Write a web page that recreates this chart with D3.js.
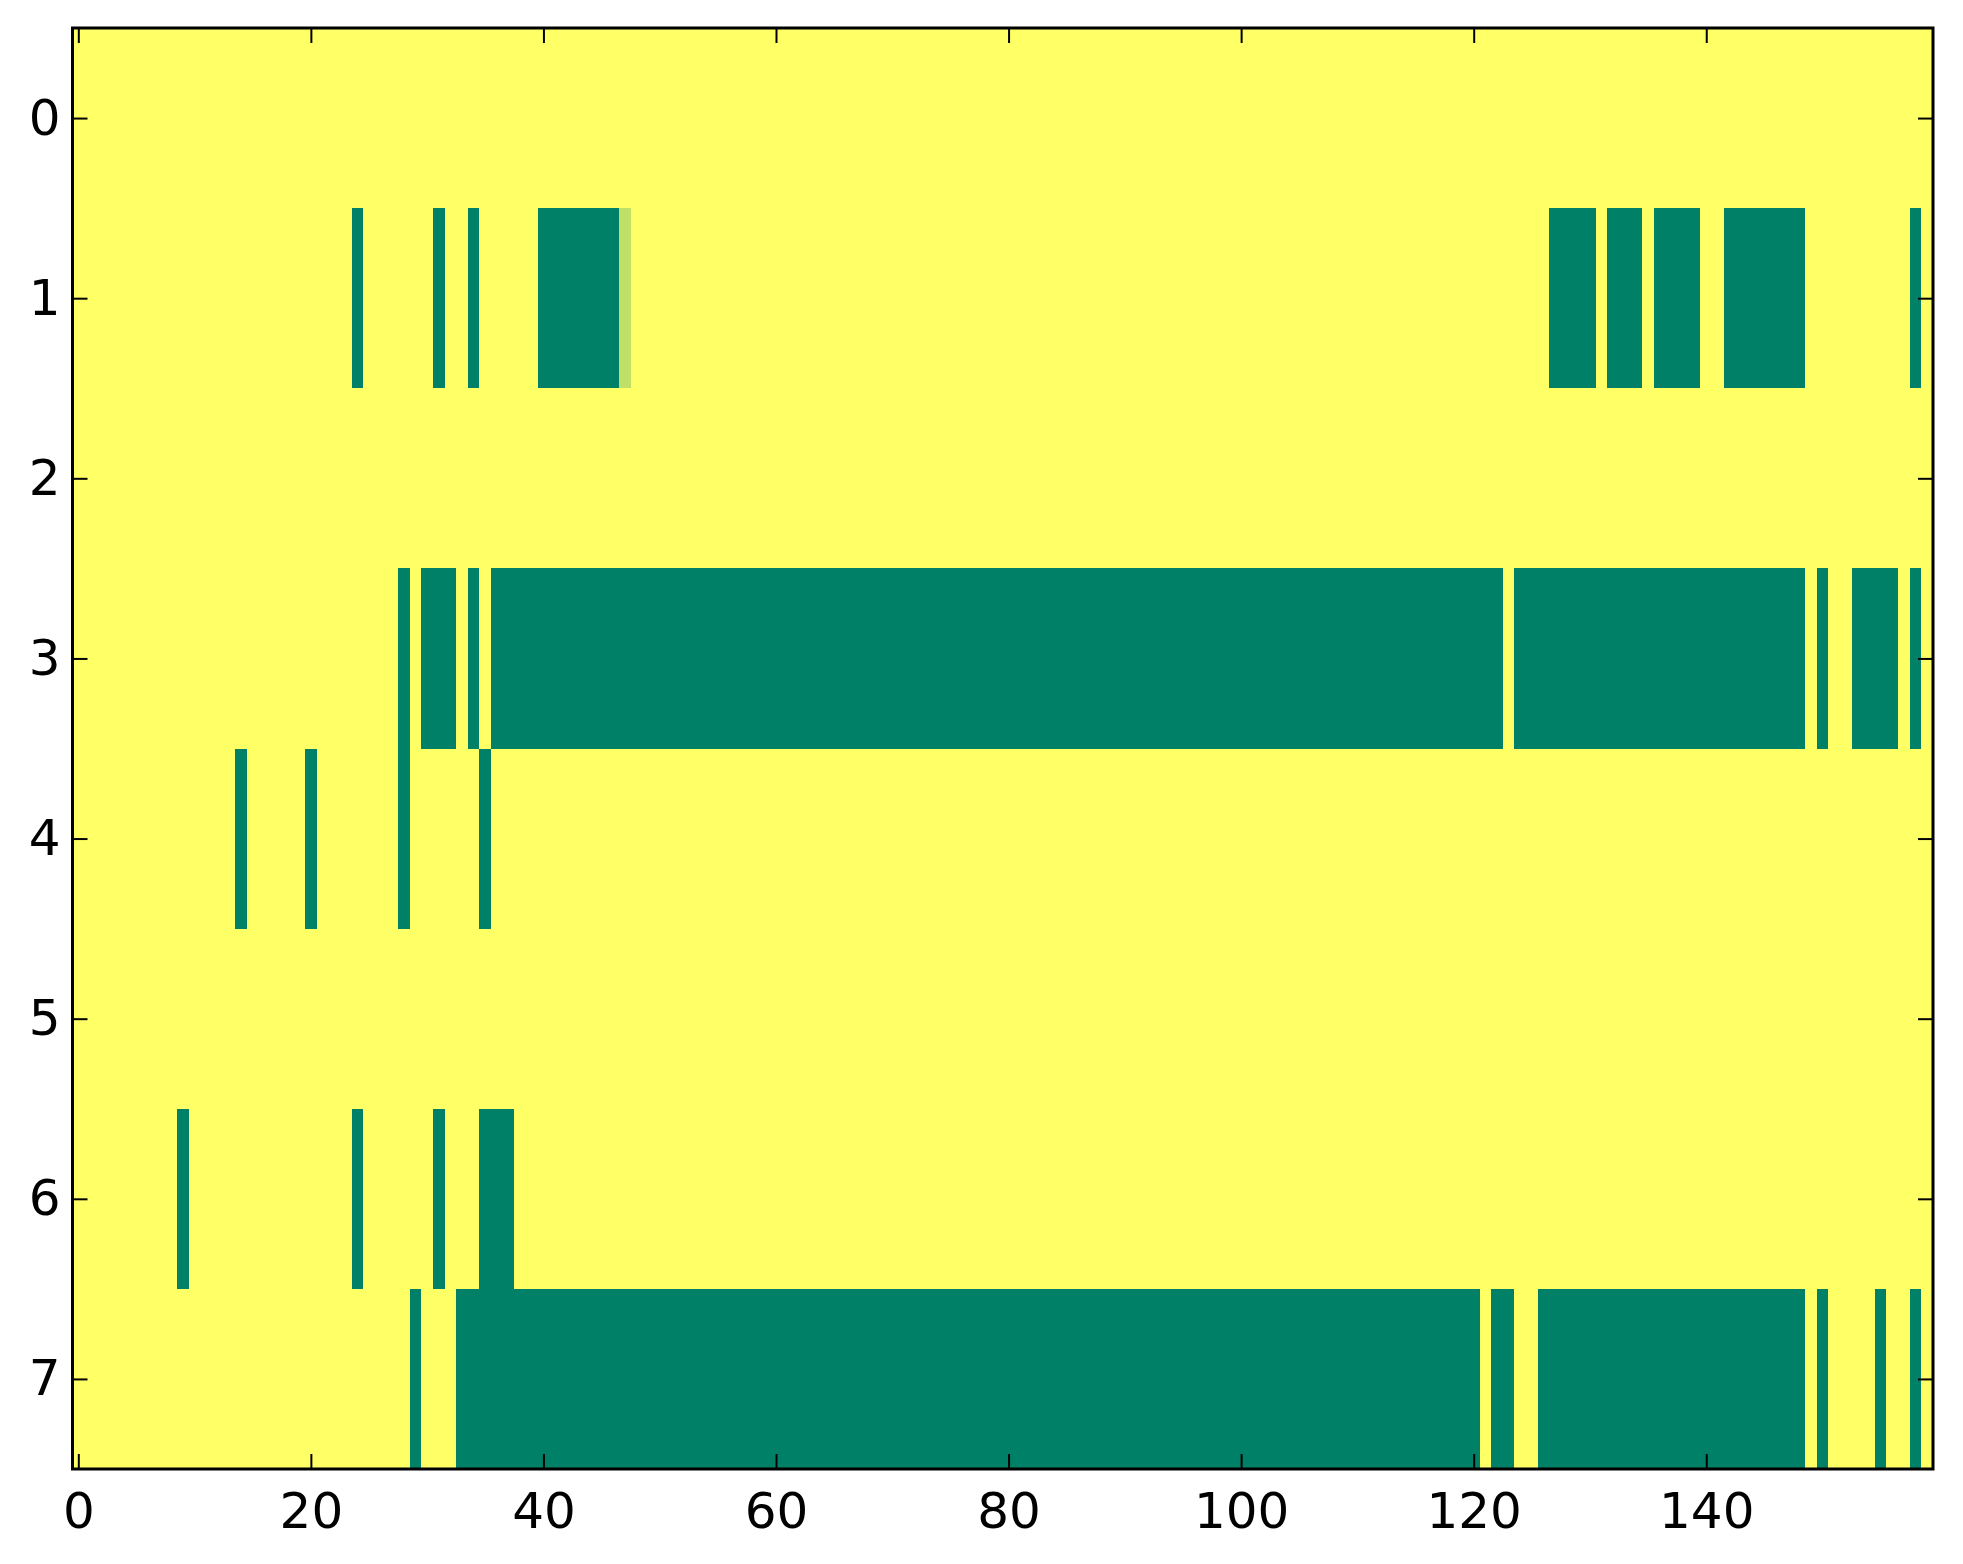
<!DOCTYPE html>
<html>
<head>
<meta charset="utf-8">
<script src="https://cdn.jsdelivr.net/npm/d3@7"></script>
<style>
  html, body { margin: 0; padding: 0; background: #ffffff; }
  svg { display: block; }
  text { font-family: "DejaVu Sans", sans-serif; fill: #000; }
</style>
</head>
<body>
<svg id="chart" width="1963" height="1564"></svg>
<script>
// ---- data ----
const nCols = 160;
const rowLabels = [0, 1, 2, 3, 4, 5, 6, 7];
const xTicks = [0, 20, 40, 60, 80, 100, 120, 140];
// runs of low (value 0) cells per row: [firstCol, lastCol]
const row0Low = [];
const row1Low = [[24, 24], [31, 31], [34, 34], [40, 46], [127, 130], [132, 134], [136, 139], [142, 148], [158, 158]];
const row2Low = [];
const row3Low = [[28, 28], [30, 32], [34, 34], [36, 122], [124, 148], [150, 150], [153, 156], [158, 158]];
const row4Low = [[14, 14], [20, 20], [28, 28], [35, 35]];
const row5Low = [];
const row6Low = [[9, 9], [24, 24], [31, 31], [35, 37]];
const row7Low = [[29, 29], [33, 120], [122, 123], [126, 148], [150, 150], [155, 155], [158, 158]];
// single cells with intermediate values: [row, col, value]
const partialCells = [[1, 47, 0.75]];

const lowRuns = [row0Low, row1Low, row2Low, row3Low, row4Low, row5Low, row6Low, row7Low];

// build matrix (default value 1)
const matrix = lowRuns.map(runs => {
  const r = new Array(nCols).fill(1);
  runs.forEach(([a, b]) => { for (let c = a; c <= b; c++) r[c] = 0; });
  return r;
});
partialCells.forEach(([r, c, v]) => { matrix[r][c] = v; });

// ---- layout ----
const svg = d3.select("#chart");
const plotL = 72.5, plotR = 1933, plotT = 28, plotB = 1469;

const x = d3.scaleLinear().domain([-0.5, nCols - 0.5]).range([plotL, plotR]);
const y = d3.scaleLinear().domain([-0.5, rowLabels.length - 0.5]).range([plotT, plotB]);
const color = d3.scaleLinear().domain([0, 1]).range(["#008066", "#ffff66"]);

// merge consecutive equal cells into runs for seamless drawing
const cellRuns = [];
matrix.forEach((row, ri) => {
  let start = 0;
  for (let c = 1; c <= row.length; c++) {
    if (c === row.length || row[c] !== row[start]) {
      cellRuns.push({ row: ri, c0: start, c1: c - 1, v: row[start] });
      start = c;
    }
  }
});

svg.append("g").selectAll("rect").data(cellRuns).join("rect")
  .attr("x", d => x(d.c0 - 0.5))
  .attr("y", d => y(d.row - 0.5))
  .attr("width", d => x(d.c1 + 0.5) - x(d.c0 - 0.5))
  .attr("height", d => y(d.row + 0.5) - y(d.row - 0.5) + 0.5)
  .attr("fill", d => color(d.v))
  .attr("shape-rendering", "crispEdges");

// ---- axes (matplotlib classic style: inward ticks on all sides) ----
const tickLen = 15;
const tickW = 2;
const fontSize = 50;

const xAxisB = d3.axisBottom(x).tickValues(xTicks).tickSize(-tickLen).tickPadding(23).tickFormat(d3.format("d"));
const xAxisT = d3.axisTop(x).tickValues(xTicks).tickSize(-tickLen).tickFormat("");
const yAxisL = d3.axisLeft(y).tickValues(rowLabels).tickSize(-tickLen).tickPadding(12).tickFormat(d3.format("d"));
const yAxisR = d3.axisRight(y).tickValues(rowLabels).tickSize(-tickLen).tickFormat("");

function styleAxis(g) {
  g.select(".domain").remove();
  g.selectAll(".tick line").attr("stroke", "#000").attr("stroke-width", tickW);
  g.selectAll(".tick text").attr("font-size", fontSize).attr("font-family", "DejaVu Sans").attr("fill", "#000");
}

svg.append("g").attr("transform", `translate(0,${plotB})`).call(xAxisB).call(styleAxis);
svg.append("g").attr("transform", `translate(0,${plotT})`).call(xAxisT).call(styleAxis);
svg.append("g").attr("transform", `translate(${plotL},0)`).call(yAxisL).call(styleAxis);
svg.append("g").attr("transform", `translate(${plotR},0)`).call(yAxisR).call(styleAxis);

// frame
svg.append("rect")
  .attr("x", plotL).attr("y", plotT)
  .attr("width", plotR - plotL).attr("height", plotB - plotT)
  .attr("fill", "none").attr("stroke", "#000").attr("stroke-width", 3);
</script>
</body>
</html>
